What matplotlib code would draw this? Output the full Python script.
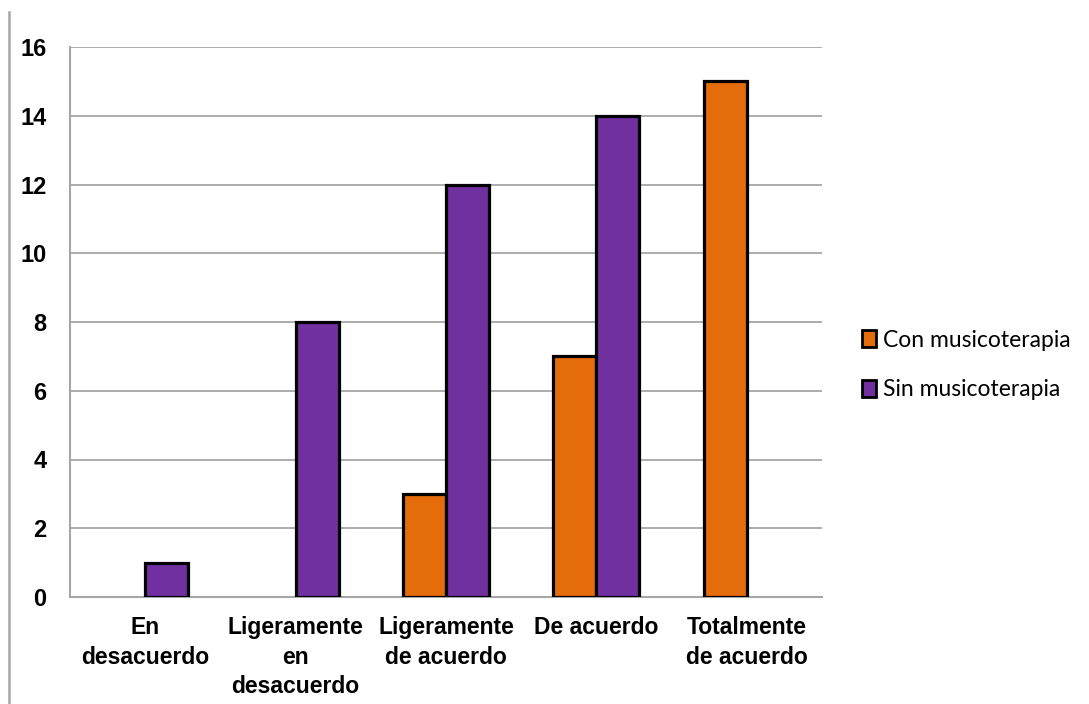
import matplotlib
matplotlib.use("Agg")
import matplotlib.pyplot as plt
import numpy as np
from matplotlib.patches import Patch
from matplotlib.lines import Line2D

categories = ["En\ndesacuerdo", "Ligeramente\nen\ndesacuerdo", "Ligeramente\nde acuerdo",
              "De acuerdo", "Totalmente\nde acuerdo"]
con_musicoterapia = [0, 0, 3, 7, 15]
sin_musicoterapia = [1, 8, 12, 14, 0]
series_names = ["Con musicoterapia", "Sin musicoterapia"]
colors = ["#E46C0A", "#7030A0"]
y_ticks = [0, 2, 4, 6, 8, 10, 12, 14, 16]

fig = plt.figure(figsize=(10.89, 7.04), dpi=100)
ax = fig.add_axes([70 / 1089, 1 - 597 / 704, 752 / 1089, 550 / 704])

x = np.arange(len(categories))
w = 0.286
for vals, off, col in [(con_musicoterapia, -w / 2, colors[0]), (sin_musicoterapia, w / 2, colors[1])]:
    for xi, v in zip(x, vals):
        if v > 0:
            ax.bar(xi + off, v, width=w, color=col, edgecolor="black", linewidth=2.3, zorder=3)

ax.set_xlim(-0.5, len(categories) - 0.5)
ax.set_ylim(0, 16)
ax.set_yticks(y_ticks)
ax.set_yticklabels([str(t) for t in y_ticks], fontsize=17, fontweight="bold",
                   family="Liberation Sans")
ax.set_xticks(x)
ax.set_xticklabels(categories, fontsize=16.5, fontweight="bold", family="Liberation Sans",
                   linespacing=1.35)
ax.tick_params(axis="both", length=0)
ax.tick_params(axis="y", pad=17)
ax.tick_params(axis="x", pad=14)
ax.yaxis.grid(True, color="#A6A6A6", linewidth=1.3, zorder=0)
ax.set_axisbelow(True)
for s in ["top", "right"]:
    ax.spines[s].set_visible(False)
for s in ["left", "bottom"]:
    ax.spines[s].set_color("#A6A6A6")
    ax.spines[s].set_linewidth(1.5)

handles = [Patch(facecolor=c, edgecolor="black", linewidth=2.0) for c in colors]
fig.legend(handles, series_names, loc="center left", bbox_to_anchor=(853 / 1089, 1 - 365 / 704),
           frameon=False, prop={"family": "Lato", "size": 16.5}, handlelength=0.6,
           handleheight=0.8, handletextpad=0.3, labelspacing=1.25, borderaxespad=0)

# thin frame line at the left edge of the figure
fig.add_artist(Line2D([9 / 1089, 9 / 1089], [0, 1 - 12 / 704], transform=fig.transFigure,
                      color="#A6A6A6", linewidth=1.8))

fig.savefig("out.png", dpi=100)
